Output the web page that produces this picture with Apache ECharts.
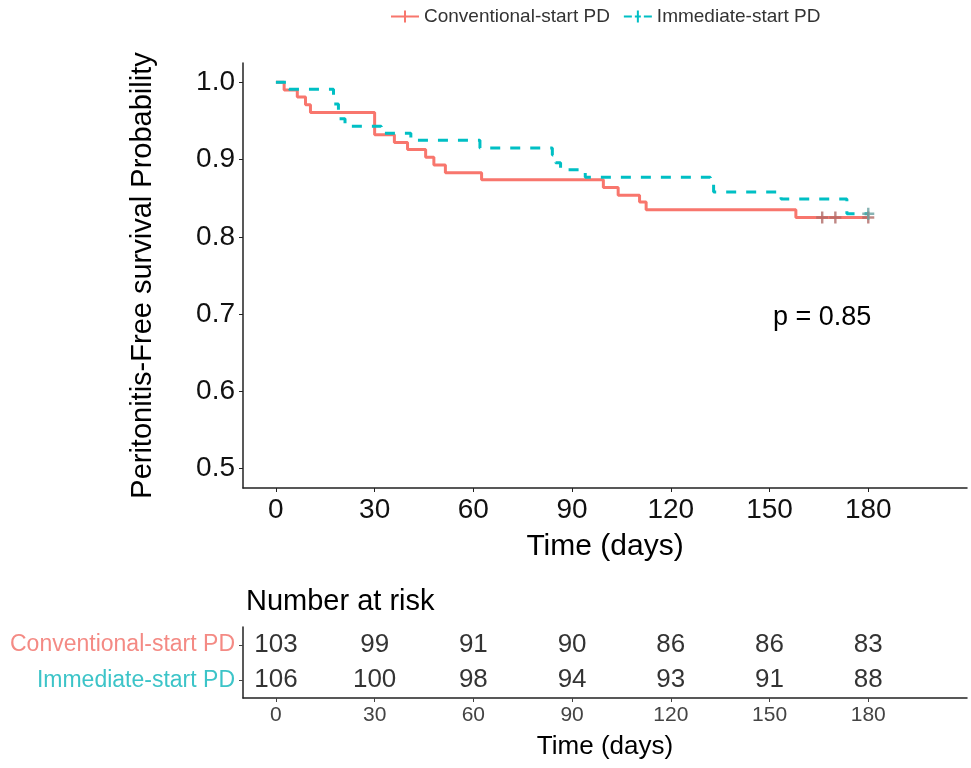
<!DOCTYPE html>
<html><head><meta charset="utf-8">
<script src="https://cdn.jsdelivr.net/npm/echarts@6/dist/echarts.min.js"></script>
<style>html,body{margin:0;padding:0;background:#fff}#c{width:971px;height:768px}</style>
</head><body><div id="c"></div>
<script>
// ---- data ----
const convName = 'Conventional-start PD';
const immName = 'Immediate-start PD';
const convTime = [0, 2.5, 6.5, 9, 10.5, 30, 36, 40, 45.5, 48, 51.5, 62.5, 99.5, 104, 110.5, 112.5, 158, 180];
const convSurv = [1.0, 0.990, 0.981, 0.971, 0.961, 0.932, 0.922, 0.913, 0.903, 0.893, 0.883, 0.874, 0.864, 0.854, 0.845, 0.835, 0.825, 0.825];
const convCensorTime = [166, 170, 180];
const convCensorSurv = [0.825, 0.825, 0.825];
const immTime = [0, 4, 17.5, 19, 21, 32, 41, 62, 84, 85, 86.5, 94, 132, 133, 153.5, 173.5, 180];
const immSurv = [1.0, 0.991, 0.972, 0.953, 0.943, 0.934, 0.925, 0.915, 0.906, 0.896, 0.887, 0.877, 0.868, 0.858, 0.849, 0.830, 0.830];
const immCensorTime = [180];
const immCensorSurv = [0.830];
const yTicks = [0.5, 0.6, 0.7, 0.8, 0.9, 1.0];
const xTicks = [0, 30, 60, 90, 120, 150, 180];
const riskTimes = [0, 30, 60, 90, 120, 150, 180];
const riskConv = [103, 99, 91, 90, 86, 86, 83];
const riskImm = [106, 100, 98, 94, 93, 91, 88];
const pText = 'p = 0.85';

// ---- styling ----
const RED = '#F8766D', CYAN = '#00BFC4';
const FONT = '"Liberation Sans", Arial, Helvetica, sans-serif';
const plus = 'path://M4,0H6V4H10V6H6V10H4V6H0V4H4Z';
const iconSolid = 'path://M0,5H28V7H0Z M13,0H15V12H13Z';
const iconDash = 'path://M0,5H8V7H0Z M11,5H17V7H11Z M20,5H28V7H20Z M13,0H15V12H13Z';

const zip = (a, b) => a.map((v, i) => [v, b[i]]);

const chart = echarts.init(document.getElementById('c'), null, {renderer: 'canvas'});
chart.setOption({
  animation: false,
  textStyle: {fontFamily: FONT},
  legend: {
    top: 2, left: 386, itemWidth: 28, itemHeight: 12, itemGap: 14,
    textStyle: {fontSize: 19, color: '#333', fontFamily: FONT},
    data: [{name: convName, icon: iconSolid, itemStyle: {color: RED}},
           {name: immName, icon: iconDash, itemStyle: {color: CYAN}}]
  },
  title: {
    text: 'Number at risk', left: 241, top: 582,
    textStyle: {fontSize: 29, fontWeight: 'normal', color: '#000', fontFamily: FONT}
  },
  graphic: [{
    type: 'text', left: 773, top: 304,
    style: {text: pText, fontSize: 27, fill: '#000', fontFamily: FONT}
  }],
  grid: [
    {left: 243, top: 63, right: 4, bottom: 280},
    {left: 243, top: 627, right: 4, bottom: 70}
  ],
  xAxis: [{
    gridIndex: 0, type: 'value', min: -10, max: 210,
    name: 'Time (days)', nameLocation: 'middle', nameGap: 44,
    nameTextStyle: {fontSize: 30, color: '#000'},
    axisLine: {show: true, onZero: false, lineStyle: {color: '#222', width: 1.5}},
    axisTick: {show: true, length: 4, lineStyle: {color: '#222'}, customValues: xTicks},
    axisLabel: {fontSize: 28, color: '#111', margin: 8, customValues: xTicks},
    splitLine: {show: false}
  }, {
    gridIndex: 1, type: 'value', min: -10, max: 210,
    name: 'Time (days)', nameLocation: 'middle', nameGap: 36,
    nameTextStyle: {fontSize: 26, color: '#000'},
    axisLine: {show: true, onZero: false, lineStyle: {color: '#222', width: 1.5}},
    axisTick: {show: true, length: 4, lineStyle: {color: '#444'}, customValues: xTicks},
    axisLabel: {fontSize: 21, color: '#444', margin: 7, customValues: xTicks},
    splitLine: {show: false}
  }],
  yAxis: [{
    gridIndex: 0, type: 'value', min: 0.475, max: 1.025,
    name: 'Peritonitis-Free survival Probability', nameLocation: 'middle', nameGap: 86,
    nameTextStyle: {fontSize: 29, color: '#000'},
    axisLine: {show: true, onZero: false, lineStyle: {color: '#222', width: 1.5}},
    axisTick: {show: true, length: 4, lineStyle: {color: '#222'}, customValues: yTicks},
    axisLabel: {fontSize: 28, color: '#111', margin: 8, customValues: yTicks,
                formatter: v => v.toFixed(1)},
    splitLine: {show: false}
  }, {
    gridIndex: 1, type: 'category', data: [immName, convName],
    axisLine: {show: true, onZero: false, lineStyle: {color: '#222', width: 1.5}},
    axisTick: {show: true, length: 4, alignWithLabel: true, lineStyle: {color: '#444'}},
    axisLabel: {fontSize: 23, margin: 8, color: v => (v === convName ? '#F48A84' : '#3CC4C8')},
    splitLine: {show: false}
  }],
  series: [
    {name: convName, type: 'line', step: 'end', xAxisIndex: 0, yAxisIndex: 0,
     data: zip(convTime, convSurv), showSymbol: false, symbol: 'none',
     lineStyle: {color: RED, width: 3}, itemStyle: {color: RED}, z: 3},
    {name: immName, type: 'line', step: 'end', xAxisIndex: 0, yAxisIndex: 0,
     data: zip(immTime, immSurv), showSymbol: false, symbol: 'none',
     lineStyle: {color: CYAN, width: 3, type: [10, 10]}, itemStyle: {color: CYAN}, z: 4},
    {name: convName, type: 'scatter', xAxisIndex: 0, yAxisIndex: 0,
     data: zip(convCensorTime, convCensorSurv), symbol: plus, symbolSize: 12,
     itemStyle: {color: '#b06a66'}, z: 5},
    {name: immName, type: 'scatter', xAxisIndex: 0, yAxisIndex: 0,
     data: zip(immCensorTime, immCensorSurv), symbol: plus, symbolSize: 12,
     itemStyle: {color: '#6aa0a0'}, z: 5},
    {type: 'scatter', xAxisIndex: 1, yAxisIndex: 1, symbolSize: 1,
     itemStyle: {color: 'rgba(0,0,0,0)'},
     data: riskTimes.map((t, i) => [t, convName, riskConv[i]]),
     label: {show: true, position: 'inside', fontSize: 26, color: '#000', formatter: p => String(p.value[2])}},
    {type: 'scatter', xAxisIndex: 1, yAxisIndex: 1, symbolSize: 1,
     itemStyle: {color: 'rgba(0,0,0,0)'},
     data: riskTimes.map((t, i) => [t, immName, riskImm[i]]),
     label: {show: true, position: 'inside', fontSize: 26, color: '#000', formatter: p => String(p.value[2])}}
  ]
});
</script>
</body></html>
